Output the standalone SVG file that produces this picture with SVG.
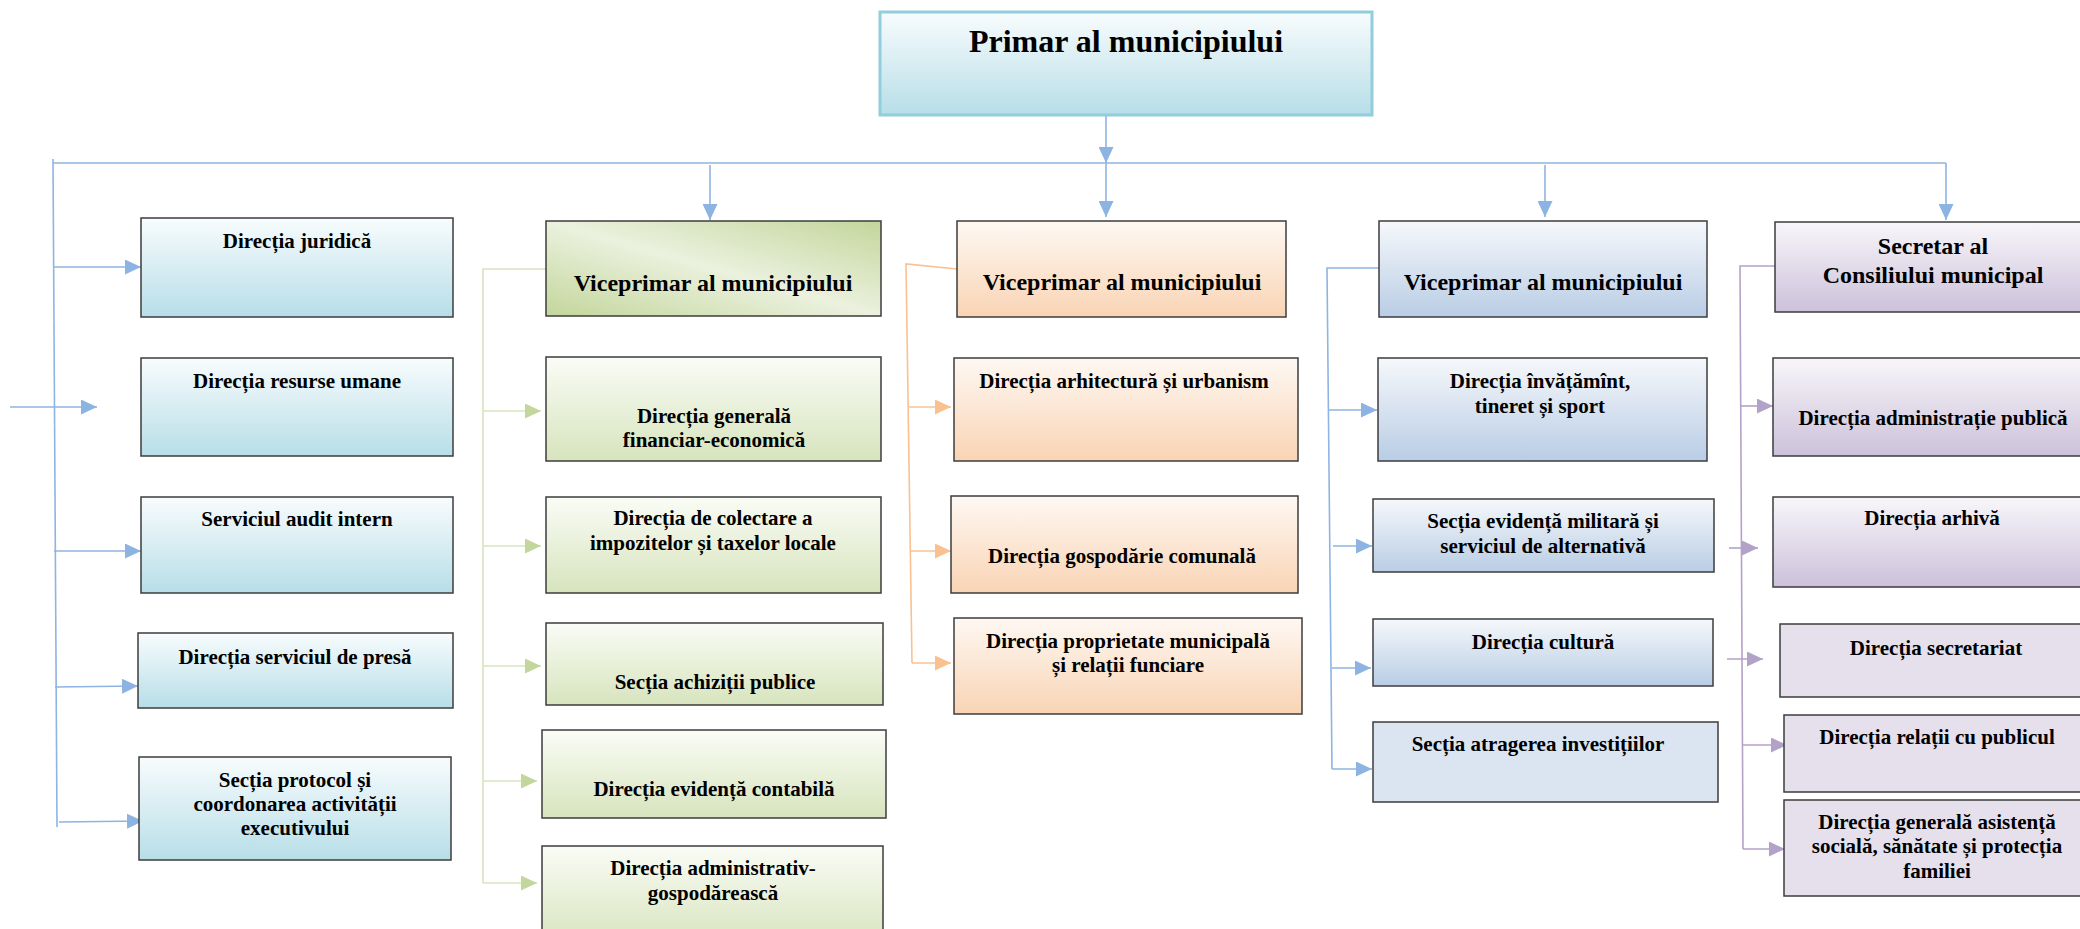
<svg xmlns="http://www.w3.org/2000/svg" width="2080" height="929" viewBox="0 0 2080 929">
<style>
text{font-family:"Liberation Serif","Times New Roman",serif;font-weight:bold;fill:#000;text-anchor:middle}
.s{font-size:21px}
.m{font-size:24px}
.box{stroke:#3c3c3c;stroke-width:1.5}
.cb{fill:none;stroke:#8EB4E3;stroke-width:1.6}
.cg{fill:none;stroke:#D7E4BD;stroke-width:1.6}
.co{fill:none;stroke:#FAC090;stroke-width:1.6}
.cp{fill:none;stroke:#B3A2C7;stroke-width:1.6}
</style>
<defs>
<linearGradient id="gCy" x1="0" y1="0" x2="0" y2="1"><stop offset="0" stop-color="#F8FCFD"/><stop offset="1" stop-color="#B7DEE8"/></linearGradient>
<linearGradient id="gGr" x1="0" y1="0" x2="0" y2="1"><stop offset="0" stop-color="#FAFCF6"/><stop offset="1" stop-color="#D7E4BD"/></linearGradient>
<linearGradient id="gGrV" x1="0" y1="1" x2="1" y2="0"><stop offset="0" stop-color="#C3D69B"/><stop offset="0.5" stop-color="#EBF1DE"/><stop offset="1" stop-color="#C3D69B"/></linearGradient>
<linearGradient id="gOr" x1="0" y1="0" x2="0" y2="1"><stop offset="0" stop-color="#FEF8F3"/><stop offset="1" stop-color="#F9D4B4"/></linearGradient>
<linearGradient id="gBl" x1="0" y1="0" x2="0" y2="1"><stop offset="0" stop-color="#F6F8FB"/><stop offset="1" stop-color="#B9CDE5"/></linearGradient>
<linearGradient id="gPu" x1="0" y1="0" x2="0" y2="1"><stop offset="0" stop-color="#F8F6FA"/><stop offset="1" stop-color="#CCC1DA"/></linearGradient>
<marker id="aB" markerUnits="userSpaceOnUse" markerWidth="16" markerHeight="15" refX="16" refY="7.5" orient="auto"><path d="M0,0L16,7.5L0,15z" fill="#8DB3E2"/></marker>
<marker id="aG" markerUnits="userSpaceOnUse" markerWidth="16" markerHeight="15" refX="16" refY="7.5" orient="auto"><path d="M0,0L16,7.5L0,15z" fill="#C3D69B"/></marker>
<marker id="aO" markerUnits="userSpaceOnUse" markerWidth="16" markerHeight="15" refX="16" refY="7.5" orient="auto"><path d="M0,0L16,7.5L0,15z" fill="#FAC090"/></marker>
<marker id="aP" markerUnits="userSpaceOnUse" markerWidth="16" markerHeight="15" refX="16" refY="7.5" orient="auto"><path d="M0,0L16,7.5L0,15z" fill="#B3A2C7"/></marker>
</defs>

<g id="connectors">
<path class="cb" d="M1106,115L1106,163" marker-end="url(#aB)"/>
<path class="cb" d="M53,163L1946,163" stroke-width="2"/>
<path class="cb" d="M710,165L710,220" marker-end="url(#aB)"/>
<path class="cb" d="M1106,163L1106,217" marker-end="url(#aB)"/>
<path class="cb" d="M1545,165L1545,217" marker-end="url(#aB)"/>
<path class="cb" d="M1946,163L1946,220" marker-end="url(#aB)"/>
<path class="cb" d="M53,159L57,827"/>
<path class="cb" d="M53,267L141,267" marker-end="url(#aB)"/>
<path class="cb" d="M10,407L97,407" marker-end="url(#aB)"/>
<path class="cb" d="M54,551L141,551" marker-end="url(#aB)"/>
<path class="cb" d="M55,687L138,686" marker-end="url(#aB)"/>
<path class="cb" d="M59,822L143,821" marker-end="url(#aB)"/>

<path class="cg" d="M546,269L483,269L483,883"/>
<path class="cg" d="M483,411L541,411" marker-end="url(#aG)"/>
<path class="cg" d="M483,546L541,546" marker-end="url(#aG)"/>
<path class="cg" d="M483,666L541,666" marker-end="url(#aG)"/>
<path class="cg" d="M483,781L537,781" marker-end="url(#aG)"/>
<path class="cg" d="M483,883L537,883" marker-end="url(#aG)"/>

<path class="co" d="M957,269L906,264L912,663"/>
<path class="co" d="M909,407L951,407" marker-end="url(#aO)"/>
<path class="co" d="M911,551L951,551" marker-end="url(#aO)"/>
<path class="co" d="M912,663L951,663" marker-end="url(#aO)"/>

<path class="cb" d="M1379,268L1327,268L1332,769"/>
<path class="cb" d="M1328,410L1377,410" marker-end="url(#aB)"/>
<path class="cb" d="M1333,546L1372,546" marker-end="url(#aB)"/>
<path class="cb" d="M1332,668L1371,668" marker-end="url(#aB)"/>
<path class="cb" d="M1332,769L1372,769" marker-end="url(#aB)"/>

<path class="cp" d="M1775,266L1740,266L1743,849"/>
<path class="cp" d="M1741,406L1773,406" marker-end="url(#aP)"/>
<path class="cp" d="M1729,548L1758,548" marker-end="url(#aP)"/>
<path class="cp" d="M1727,659L1763,659" marker-end="url(#aP)"/>
<path class="cp" d="M1743,745L1787,745" marker-end="url(#aP)"/>
<path class="cp" d="M1743,849L1785,849" marker-end="url(#aP)"/>
</g>

<g id="primar">
<rect x="880" y="12" width="492" height="103" fill="url(#gCy)" stroke="#92CDDC" stroke-width="3"/>
<text x="1126" y="52" font-size="32">Primar al municipiului</text>
</g>

<g id="dir-juridica"><rect class="box" x="141" y="218" width="312" height="99" fill="url(#gCy)"/><text class="s" x="297" y="248">Direcția juridică</text></g>
<g id="dir-resurse"><rect class="box" x="141" y="358" width="312" height="98" fill="url(#gCy)"/><text class="s" x="297" y="388">Direcția resurse umane</text></g>
<g id="serv-audit"><rect class="box" x="141" y="497" width="312" height="96" fill="url(#gCy)"/><text class="s" x="297" y="526">Serviciul audit intern</text></g>
<g id="dir-presa"><rect class="box" x="138" y="633" width="315" height="75" fill="url(#gCy)"/><text class="s" x="295" y="664">Direcția serviciul de presă</text></g>
<g id="sec-protocol"><rect class="box" x="139" y="757" width="312" height="103" fill="url(#gCy)"/><text class="s" x="295" y="787">Secția protocol și</text><text class="s" x="295" y="811">coordonarea activității</text><text class="s" x="295" y="835">executivului</text></g>

<g id="vice-green"><rect class="box" x="546" y="221" width="335" height="95" fill="url(#gGrV)"/><text class="m" x="713" y="291">Viceprimar al municipiului</text></g>
<g id="dir-financiar"><rect class="box" x="546" y="357" width="335" height="104" fill="url(#gGr)"/><text class="s" x="714" y="423">Direcția generală</text><text class="s" x="714" y="447">financiar-economică</text></g>
<g id="dir-colectare"><rect class="box" x="546" y="497" width="335" height="96" fill="url(#gGr)"/><text class="s" x="713" y="525">Direcția de colectare a</text><text class="s" x="713" y="550">impozitelor și taxelor locale</text></g>
<g id="sec-achizitii"><rect class="box" x="546" y="623" width="337" height="82" fill="url(#gGr)"/><text class="s" x="715" y="689">Secția achiziții publice</text></g>
<g id="dir-contabila"><rect class="box" x="542" y="730" width="344" height="88" fill="url(#gGr)"/><text class="s" x="714" y="796">Direcția evidență contabilă</text></g>
<g id="dir-admgosp"><rect class="box" x="542" y="846" width="341" height="100" fill="url(#gGr)"/><text class="s" x="713" y="875">Direcția administrativ-</text><text class="s" x="713" y="900">gospodărească</text></g>

<g id="vice-orange"><rect class="box" x="957" y="221" width="329" height="96" fill="url(#gOr)"/><text class="m" x="1122" y="290">Viceprimar al municipiului</text></g>
<g id="dir-arhitectura"><rect class="box" x="954" y="358" width="344" height="103" fill="url(#gOr)"/><text class="s" x="1124" y="388">Direcția arhitectură și urbanism</text></g>
<g id="dir-gospodarie"><rect class="box" x="951" y="496" width="347" height="97" fill="url(#gOr)"/><text class="s" x="1122" y="563">Direcția gospodărie comunală</text></g>
<g id="dir-proprietate"><rect class="box" x="954" y="618" width="348" height="96" fill="url(#gOr)"/><text class="s" x="1128" y="648">Direcția proprietate municipală</text><text class="s" x="1128" y="672">și relații funciare</text></g>

<g id="vice-blue"><rect class="box" x="1379" y="221" width="328" height="96" fill="url(#gBl)"/><text class="m" x="1543" y="290">Viceprimar al municipiului</text></g>
<g id="dir-invatamint"><rect class="box" x="1378" y="358" width="329" height="103" fill="url(#gBl)"/><text class="s" x="1540" y="388">Direcția învățămînt,</text><text class="s" x="1540" y="413">tineret și sport</text></g>
<g id="sec-militara"><rect class="box" x="1373" y="499" width="341" height="73" fill="url(#gBl)"/><text class="s" x="1543" y="528">Secția evidență militară și</text><text class="s" x="1543" y="553">serviciul de alternativă</text></g>
<g id="dir-cultura"><rect class="box" x="1373" y="619" width="340" height="67" fill="url(#gBl)"/><text class="s" x="1543" y="649">Direcția cultură</text></g>
<g id="sec-investitii"><rect class="box" x="1373" y="722" width="345" height="80" fill="#DBE5F1"/><text class="s" x="1538" y="751">Secția atragerea investițiilor</text></g>

<g id="secretar"><rect class="box" x="1775" y="222" width="315" height="90" fill="url(#gPu)"/><text class="m" x="1933" y="254">Secretar al</text><text class="m" x="1933" y="283">Consiliului municipal</text></g>
<g id="dir-admpublica"><rect class="box" x="1773" y="358" width="317" height="98" fill="url(#gPu)"/><text class="s" x="1933" y="425">Direcția administrație publică</text></g>
<g id="dir-arhiva"><rect class="box" x="1773" y="497" width="317" height="90" fill="url(#gPu)"/><text class="s" x="1932" y="525">Direcția arhivă</text></g>
<g id="dir-secretariat"><rect class="box" x="1780" y="624" width="310" height="73" fill="#E5E0EC"/><text class="s" x="1936" y="655">Direcția secretariat</text></g>
<g id="dir-relatii"><rect class="box" x="1784" y="715" width="306" height="77" fill="#E5E0EC"/><text class="s" x="1937" y="744">Direcția relații cu publicul</text></g>
<g id="dir-asistenta"><rect class="box" x="1784" y="800" width="306" height="96" fill="#E5E0EC"/><text class="s" x="1937" y="829">Direcția generală asistență</text><text class="s" x="1937" y="853">socială, sănătate și protecția</text><text class="s" x="1937" y="878">familiei</text></g>
</svg>
